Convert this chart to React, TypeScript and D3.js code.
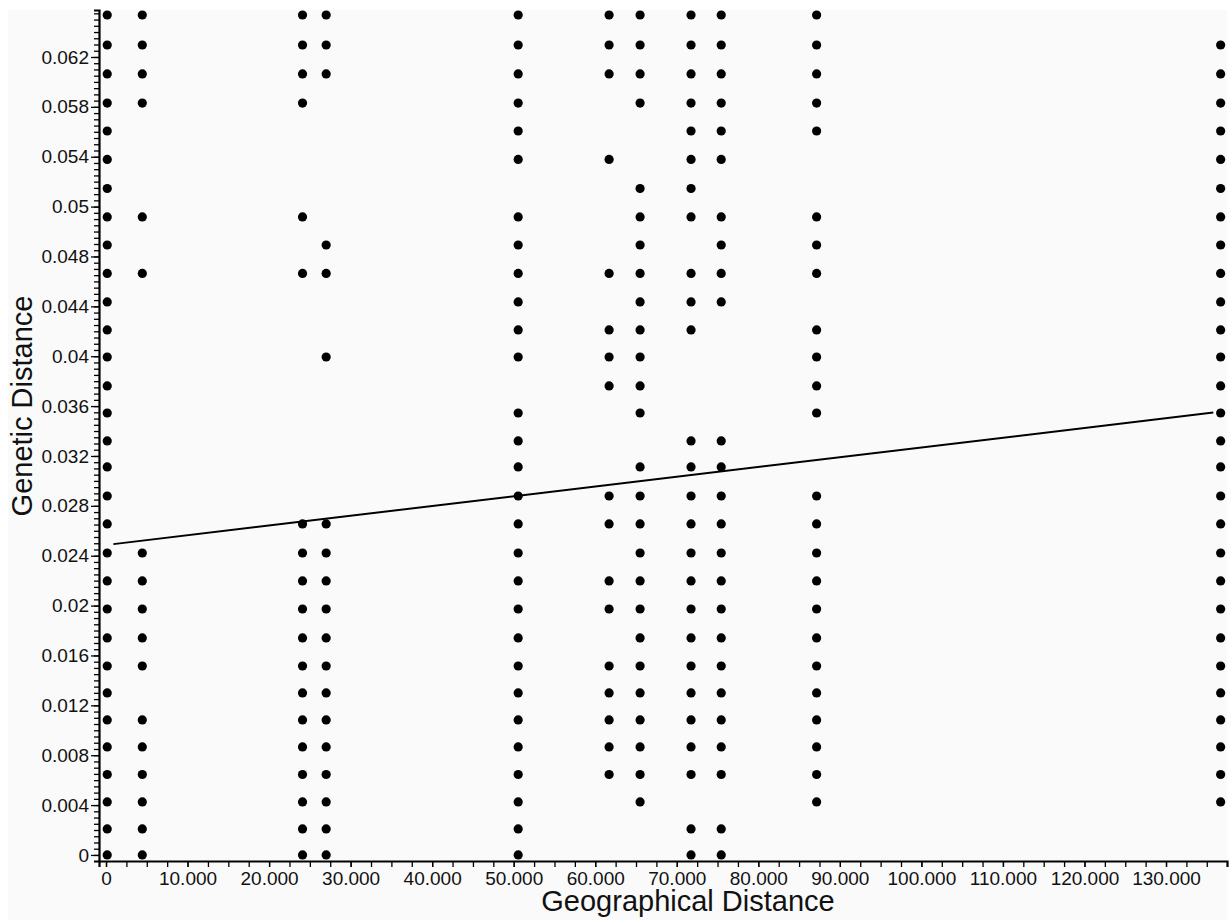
import * as d3 from 'd3';
import { useEffect, useRef } from 'react';

// geographical distance of each column of points
const geoDistances = [150, 4450, 24100, 27000, 50550, 61700, 65500, 71750, 75450, 87150, 136700];

// the discrete genetic distance levels the points sit on
const genLevels = [
    0, 0.00202, 0.00412, 0.00625, 0.00839, 0.01049, 0.01259, 0.01468, 0.01686, 0.01911,
    0.02129, 0.02346, 0.02572, 0.02789, 0.03015, 0.03217, 0.03434, 0.03644, 0.03869, 0.04079,
    0.04297, 0.04518, 0.04739, 0.04957, 0.05178, 0.05404, 0.05625, 0.05842, 0.06068, 0.06293,
    0.06526,
];

// which levels are filled in each column (index into genLevels)
const columnLevels = [
    [0, 1, 2, 3, 4, 5, 6, 7, 8, 9, 10, 11, 12, 13, 14, 15, 16, 17, 18, 19, 20, 21, 22, 23, 24, 25, 26, 27, 28, 29, 30],
    [0, 1, 2, 3, 4, 5, 7, 8, 9, 10, 11, 21, 23, 27, 28, 29, 30],
    [0, 1, 2, 3, 4, 5, 6, 7, 8, 9, 10, 11, 12, 21, 23, 27, 28, 29, 30],
    [0, 1, 2, 3, 4, 5, 6, 7, 8, 9, 10, 11, 12, 18, 21, 22, 28, 29, 30],
    [0, 1, 2, 3, 4, 5, 6, 7, 8, 9, 10, 11, 12, 13, 14, 15, 16, 18, 19, 20, 21, 22, 23, 25, 26, 27, 28, 29, 30],
    [3, 4, 5, 6, 7, 9, 10, 12, 13, 17, 18, 19, 21, 25, 28, 29, 30],
    [2, 3, 4, 5, 6, 7, 8, 9, 10, 11, 12, 13, 14, 16, 17, 18, 19, 20, 21, 22, 23, 24, 27, 28, 29, 30],
    [0, 1, 3, 4, 5, 6, 7, 8, 9, 10, 11, 12, 13, 14, 15, 19, 20, 21, 23, 24, 25, 26, 27, 28, 29, 30],
    [0, 1, 3, 4, 5, 6, 7, 8, 9, 10, 11, 12, 13, 14, 15, 20, 21, 22, 23, 25, 26, 27, 28, 29, 30],
    [2, 3, 4, 5, 6, 7, 8, 9, 10, 11, 12, 13, 16, 17, 18, 19, 21, 22, 23, 26, 27, 28, 29, 30],
    [2, 3, 4, 5, 6, 7, 8, 9, 10, 11, 12, 13, 14, 15, 16, 17, 18, 19, 20, 21, 22, 23, 24, 25, 26, 27, 28, 29],
];

// regression line end points
const regGeo = [900, 135800];
const regGen = [0.02415, 0.03437];

const yTickValues = [0, 0.003875, 0.00775, 0.011625, 0.0155, 0.019375, 0.02325, 0.027125, 0.031,
    0.034875, 0.03875, 0.042625, 0.0465, 0.050375, 0.05425, 0.058125, 0.062];
const yTickLabels = ["0", "0.004", "0.008", "0.012", "0.016", "0.02", "0.024", "0.028", "0.032",
    "0.036", "0.04", "0.044", "0.048", "0.05", "0.054", "0.058", "0.062"];
const xTickValues = [0, 10000, 20000, 30000, 40000, 50000, 60000, 70000, 80000, 90000, 100000, 110000, 120000, 130000];

const FONT = "'Liberation Sans', Arial, sans-serif";

function ScatterD3() {
    const svgRef = useRef(null);

    useEffect(() => {
        if (!svgRef.current) return;
        const svg = d3.select(svgRef.current);
        svg.selectAll('*').remove();

        const height = 920;

        const x = d3.scaleLinear().domain([-860, 137480]).range([99, 1227]);
        const y = d3.scaleLinear().domain([-0.00047, 0.06565]).range([861, 10]);

        svg.append("rect")
            .attr("x", 8).attr("y", 10)
            .attr("width", 1219).attr("height", height - 10)
            .attr("fill", "#fafafa");

        const points = [];
        columnLevels.forEach((levels, c) => {
            levels.forEach(l => points.push({ geo: geoDistances[c], gen: genLevels[l] }));
        });

        const line = d3.line()
            .x(d => x(d[0]))
            .y(d => y(d[1]));

        svg.append("path")
            .datum(regGeo.map((g, i) => [g, regGen[i]]))
            .attr("d", line)
            .attr("fill", "none")
            .attr("stroke", "#000")
            .attr("stroke-width", 2);

        svg.selectAll(".dot")
            .data(points)
            .enter().append("circle")
            .attr("class", "dot")
            .attr("cx", d => x(d.geo))
            .attr("cy", d => y(d.gen))
            .attr("r", 4.6)
            .attr("fill", "#000");

        // x axis: minor ticks then labelled ticks
        const xMinor = svg.append("g")
            .attr("transform", `translate(0, ${y.range()[0]})`)
            .call(d3.axisBottom(x).tickValues(d3.range(0, 137500, 2500)).tickFormat(() => "").tickSize(6));
        xMinor.select(".domain").attr("stroke-width", 2.2);
        xMinor.selectAll(".tick line").attr("stroke-width", 1.3);

        const xAxis = svg.append("g")
            .attr("transform", `translate(0, ${y.range()[0]})`)
            .call(d3.axisBottom(x)
                .tickValues(xTickValues)
                .tickFormat(d => d === 0 ? "0" : d3.format(",")(d).replace(/,/g, "."))
                .tickSize(6).tickPadding(4.5));
        xAxis.select(".domain").remove();
        xAxis.selectAll(".tick line").attr("stroke-width", 1.3);
        xAxis.selectAll(".tick text")
            .attr("fill", "#111")
            .attr("font-family", FONT)
            .attr("font-size", "19px");

        // y axis
        const yMinor = svg.append("g")
            .attr("transform", `translate(${x.range()[0]}, 0)`)
            .call(d3.axisLeft(y).tickValues(d3.range(0, 0.0655, 0.003875 / 8)).tickFormat(() => "").tickSize(5));
        yMinor.select(".domain").attr("stroke-width", 2.2);
        yMinor.selectAll(".tick line").attr("stroke-width", 1.3);

        const yAxis = svg.append("g")
            .attr("transform", `translate(${x.range()[0]}, 0)`)
            .call(d3.axisLeft(y)
                .tickValues(yTickValues)
                .tickFormat((d, i) => yTickLabels[i])
                .tickSize(8).tickPadding(2));
        yAxis.select(".domain").remove();
        yAxis.selectAll(".tick line").attr("stroke-width", 1.3);
        yAxis.selectAll(".tick text")
            .attr("fill", "#111")
            .attr("font-family", FONT)
            .attr("font-size", "19px");

        svg.append("text")
            .attr("x", 688)
            .attr("y", 911)
            .attr("text-anchor", "middle")
            .attr("font-family", FONT)
            .attr("font-size", "29px")
            .attr("fill", "#111")
            .text("Geographical Distance");

        svg.append("text")
            .attr("transform", `translate(32, 406) rotate(-90)`)
            .attr("text-anchor", "middle")
            .attr("font-family", FONT)
            .attr("font-size", "29px")
            .attr("fill", "#111")
            .text("Genetic Distance");

        return () => {
            d3.select(svgRef.current).selectAll("*").remove();
        };
    }, []);

    return (
        <svg ref={svgRef} width={1229} height={920}
            style={{ position: 'absolute', left: 0, top: 0, background: '#fff' }} />
    );
}

export default function App() {
    return <ScatterD3 />;
}
